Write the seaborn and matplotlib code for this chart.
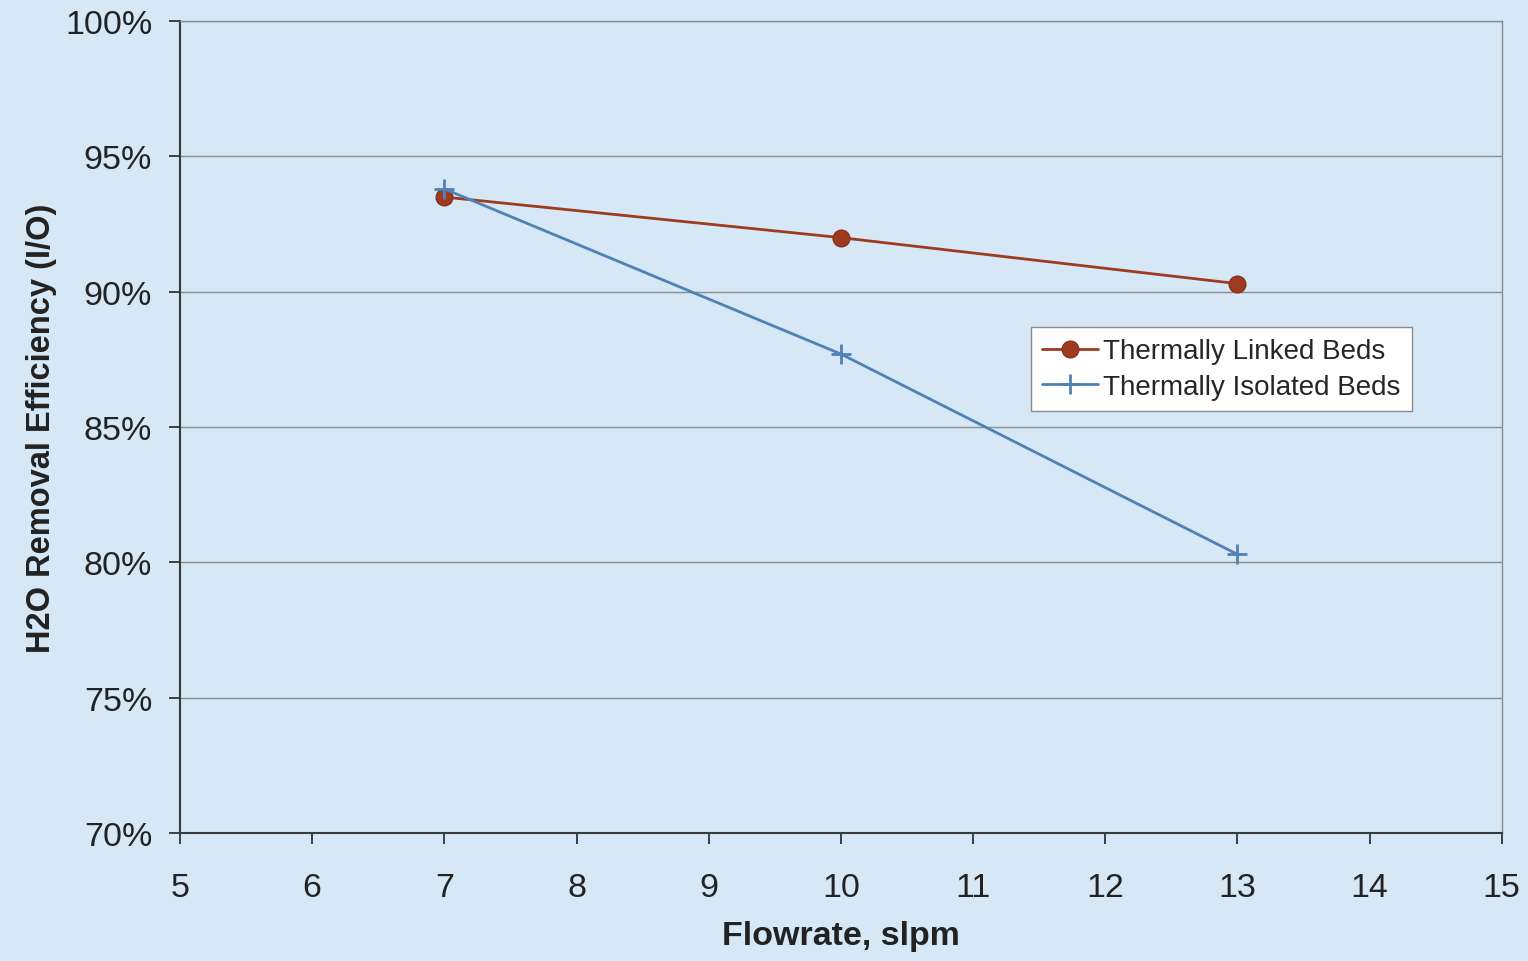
"""H2O removal efficiency vs flowrate."""
import numpy as np
import matplotlib
matplotlib.use('Agg')
import matplotlib.pyplot as plt
from matplotlib.ticker import PercentFormatter
import pandas as pd
import seaborn as sns

flowrate = [7, 10, 13]
linked_eff = [93.5, 92.0, 90.3]
isolated_eff = [93.8, 87.7, 80.3]
series_names = ['Thermally Linked Beds', 'Thermally Isolated Beds']

bg = '#d6e8f6'
sns.set_style('ticks')
plt.rcParams['font.family'] = ['Liberation Sans', 'DejaVu Sans']

df = pd.DataFrame({'flow': flowrate * 2,
                   'eff': linked_eff + isolated_eff,
                   'series': [series_names[0]] * 3 + [series_names[1]] * 3})

fig = plt.figure(figsize=(15.28, 9.62), dpi=100, facecolor=bg)
ax = fig.add_axes([0.1178, 0.133, 0.865, 0.844], facecolor=bg)

sns.lineplot(data=df[df.series == series_names[0]], x='flow', y='eff',
             color='#9e3a1f', marker='o', markersize=12, linewidth=2,
             markeredgecolor='#8a3019', markeredgewidth=1,
             label=series_names[0], ax=ax)
sns.lineplot(data=df[df.series == series_names[1]], x='flow', y='eff',
             color='#4f81b5', marker='+', markersize=15, linewidth=2,
             markeredgecolor='#4f81b5', markeredgewidth=2,
             label=series_names[1], ax=ax)

ax.set_xlim(5, 15)
ax.set_ylim(70, 100)
ax.set_xticks(np.arange(5, 16, 1))
ax.set_yticks(np.arange(70, 101, 5))
ax.yaxis.set_major_formatter(PercentFormatter(decimals=0))
ax.grid(axis='y', color='#8c8c8c', linewidth=1)
ax.set_axisbelow(True)

for side in ['top', 'right']:
    ax.spines[side].set_color('#8c8c8c')
    ax.spines[side].set_linewidth(1)
for side in ['left', 'bottom']:
    ax.spines[side].set_color('#3a3a3a')
    ax.spines[side].set_linewidth(1.5)

ax.tick_params(axis='both', labelsize=24.5, colors='#222222', length=8,
               width=1.2, direction='out')
ax.tick_params(axis='x', pad=20)
ax.tick_params(axis='y', pad=12)
ax.set_xlabel('Flowrate, slpm', fontsize=24.5, fontweight='bold',
              color='#222222', labelpad=12)
ax.set_ylabel('H2O Removal Efficiency (I/O)', fontsize=23.5, fontweight='bold',
              color='#222222', labelpad=6)

leg = ax.legend(loc='upper left', bbox_to_anchor=(0.644, 0.623), fontsize=20,
                frameon=True, fancybox=False, framealpha=1, handlelength=2.0,
                handletextpad=0.2, borderpad=0.4, labelspacing=0.35,
                borderaxespad=0)
leg.get_frame().set_edgecolor('#8c8c8c')
leg.get_frame().set_linewidth(1)

fig.savefig('out.png', dpi=100, facecolor=bg)
